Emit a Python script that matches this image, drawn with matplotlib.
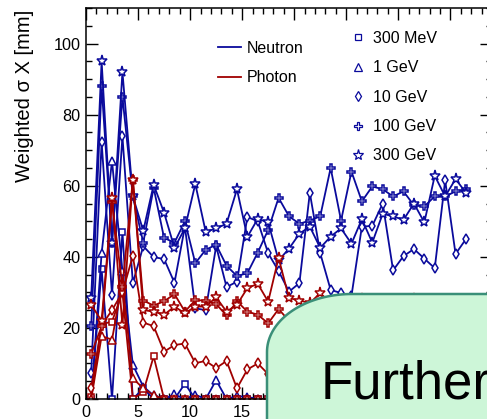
import numpy as np
import matplotlib.pyplot as plt
from matplotlib.lines import Line2D
from matplotlib.patches import PathPatch
from matplotlib.path import Path

plt.rcParams['font.family'] = ['Liberation Sans', 'DejaVu Sans']

particles = ['Neutron', 'Photon']
energies = ['300 MeV', '1 GeV', '10 GeV', '100 GeV', '300 GeV']

# weighted sigma X [mm] per bin (bin width 1, first bin 0-1)
neutron_300mev = [0, 36.5, 0, 47, 0, 3, 0, 0, 0, 4.3, 0, 0, 0, 0, 0, 0, 0, 0, 0,
                  0, 0, 0, 0, 0, 0, 0, 0, 0, 0, 0, 0, 0, 0, 0, 0, 0, 0]
neutron_1gev = [0, 41, 67, 36, 9.6, 3.5, 1, 0, 1.3, 0, 1.2, 0, 5.3, 0, 0.8, 0.6, 0, 0, 0,
                0, 0, 0, 0, 0, 0, 0, 0, 0, 0, 0, 0, 0, 0, 0, 0, 0, 0]
neutron_10gev = [7.4, 72.3, 29.3, 73.9, 32.6, 43, 39.9, 39.4, 32.7, 48.5, 25.5, 25, 43,
                 31.5, 33, 51.2, 50, 41, 36, 30.2, 32.6, 58, 41, 30.7, 29.8, 29, 48.5,
                 48.7, 55, 36.2, 40.2, 42.2, 39.5, 36.8, 61.5, 40.8, 45]
neutron_100gev = [20.4, 88, 44, 85, 57, 44, 59.4, 45.3, 44, 50, 38.2, 42, 43.4, 37.5,
                  34.6, 35.4, 41.2, 47.6, 56.6, 51.4, 49.3, 50.2, 51.4, 65, 50.2, 64,
                  55.6, 59.8, 59, 57, 58.4, 54.5, 54.2, 57, 57, 58.4, 59]
neutron_300gev = [28.5, 95, 44, 92, 57, 47.3, 60.3, 52.4, 42.5, 48, 60.5, 47, 48, 49.3,
                  59, 45.6, 50.7, 49.7, 39, 42.3, 46.5, 48.5, 42.5, 45.7, 48, 43.7, 50.6,
                  44, 52.1, 51.4, 50.4, 55, 49.7, 62.8, 57, 61.9, 58]

photon_300mev = [0.5, 21, 21.8, 30, 0, 2, 12, 0, 0, 0, 0, 0, 0, 0, 0, 0, 0, 0, 0,
                 0, 0, 0, 0, 0, 0, 0, 0, 0, 0, 0, 0, 0, 0, 0, 0, 0, 0]
photon_1gev = [0, 17.7, 16.7, 33, 5.8, 3, 1, 0, 0, 0, 0, 0, 0, 0, 0, 0, 0, 0, 0,
               0, 0, 0, 0, 0, 0, 0, 0, 0, 0, 0, 0, 0, 0, 0, 0, 0, 0]
photon_10gev = [3, 20.7, 25, 30, 40.3, 21.5, 20.5, 13.3, 15.2, 15.6, 10.1, 10.7, 8.7,
                10.7, 3, 8.3, 10, 7, 9, 8, 9, 7, 8, 9, 8, 7, 9, 8, 8, 9, 7, 8, 9, 8, 7, 8, 8]
photon_100gev = [12.7, 20.4, 55.5, 31.6, 61.7, 27.7, 26.3, 27.5, 29.5, 24.6, 27.8, 27.7,
                 26.7, 23.5, 27.5, 24.6, 23.7, 21.3, 25.3, 22, 21, 22, 20, 21, 22, 21,
                 20, 22, 21, 20, 21, 22, 21, 20, 21, 22, 21]
photon_300gev = [26.5, 22, 56.5, 20.8, 61.7, 25, 24.6, 23.7, 26, 24.1, 26, 26, 28.6,
                 24.6, 26.5, 31.2, 32.4, 27.4, 39.7, 28.4, 27.7, 27, 29.8, 27, 26, 27,
                 28, 26, 27, 26, 27, 28, 26, 27, 26, 27, 27]

neutron = [neutron_300mev, neutron_1gev, neutron_10gev, neutron_100gev, neutron_300gev]
photon = [photon_300mev, photon_1gev, photon_10gev, photon_100gev, photon_300gev]

# only these x labels are not hidden by the slide box
xtick_labels = ['0', '5', '10', '15', '', '', '', '']

blue = '#0a0a9c'
red = '#a00000'
marker_styles = [('s', 5), ('^', 5.5), ('d', 5.5), ('P', 6), ('*', 8)]


def draw_series(ax, data, color):
    for values, (m, ms) in zip(data, marker_styles):
        x = np.arange(len(values)) + 0.5
        ax.plot(x, values, color=color, lw=1.3, marker=m, ms=ms, mfc='white',
                mec=color, mew=1.1)


fig = plt.figure(figsize=(4.87, 4.19), dpi=100)
ax = fig.add_axes([86 / 487, 20 / 419, 406 / 487, 391 / 419])

draw_series(ax, neutron, blue)
draw_series(ax, photon, red)

ax.set_xlim(0, 406 / 11.09)
ax.set_ylim(0, 110)
ax.set_xticks(np.arange(0, 40, 5))
ax.set_xticklabels(xtick_labels)
ax.set_xticks(np.arange(0, 40, 1), minor=True)
ax.set_yticks(np.arange(0, 101, 20))
ax.set_yticks(np.arange(0, 111, 5), minor=True)
ax.tick_params(which='both', direction='in', top=True, right=True, labelsize=11.7,
               width=1, pad=4)
ax.tick_params(which='major', length=8.5)
ax.tick_params(which='minor', length=4)
for s in ax.spines.values():
    s.set_linewidth(1.1)

ax.set_ylabel('Weighted σ X [mm]', fontsize=14.5, loc='top')
ax.yaxis.set_label_coords(-52 / 406, 0.995)

h1 = [Line2D([], [], color=blue, lw=1.3), Line2D([], [], color=red, lw=1.3)]
leg1 = ax.legend(h1, particles, loc='upper left', bbox_to_anchor=(218 / 487, 1 - 41 / 419),
                 bbox_transform=fig.transFigure, frameon=False, fontsize=11.5,
                 handlelength=1.45, handletextpad=0.35, labelspacing=0.9,
                 borderpad=0, borderaxespad=0)
ax.add_artist(leg1)

h2 = [Line2D([], [], ls='none', marker=m, ms=ms, color=blue, mfc='white', mew=0.9)
      for m, ms in marker_styles]
ax.legend(h2, energies, loc='upper left', bbox_to_anchor=(350 / 487, 1 - 31 / 419),
          bbox_transform=fig.transFigure, frameon=False, fontsize=11.5,
          handlelength=1.0, handletextpad=0.45, labelspacing=0.9,
          borderpad=0, borderaxespad=0)

# overlay box from the slide
ov = fig.add_axes([0, 0, 1, 1], zorder=10)
ov.set_xlim(0, 487)
ov.set_ylim(419, 0)
ov.axis('off')
left, top, rx, ry = 267, 294, 85, 58
t = np.linspace(np.pi, 1.5 * np.pi, 40)
corner = np.column_stack([left + rx + rx * np.cos(t), top + ry + ry * np.sin(t)])
verts = np.vstack([[left, 440], corner, [500, top], [500, 440], [left, 440]])
ov.add_patch(PathPatch(Path(verts), facecolor='#cdf6d8', edgecolor='#3a8f78', lw=1.8))
ov.text(321, 398, 'Further', fontsize=38, va='baseline', ha='left', color='black')

fig.savefig('out.png', dpi=100)
